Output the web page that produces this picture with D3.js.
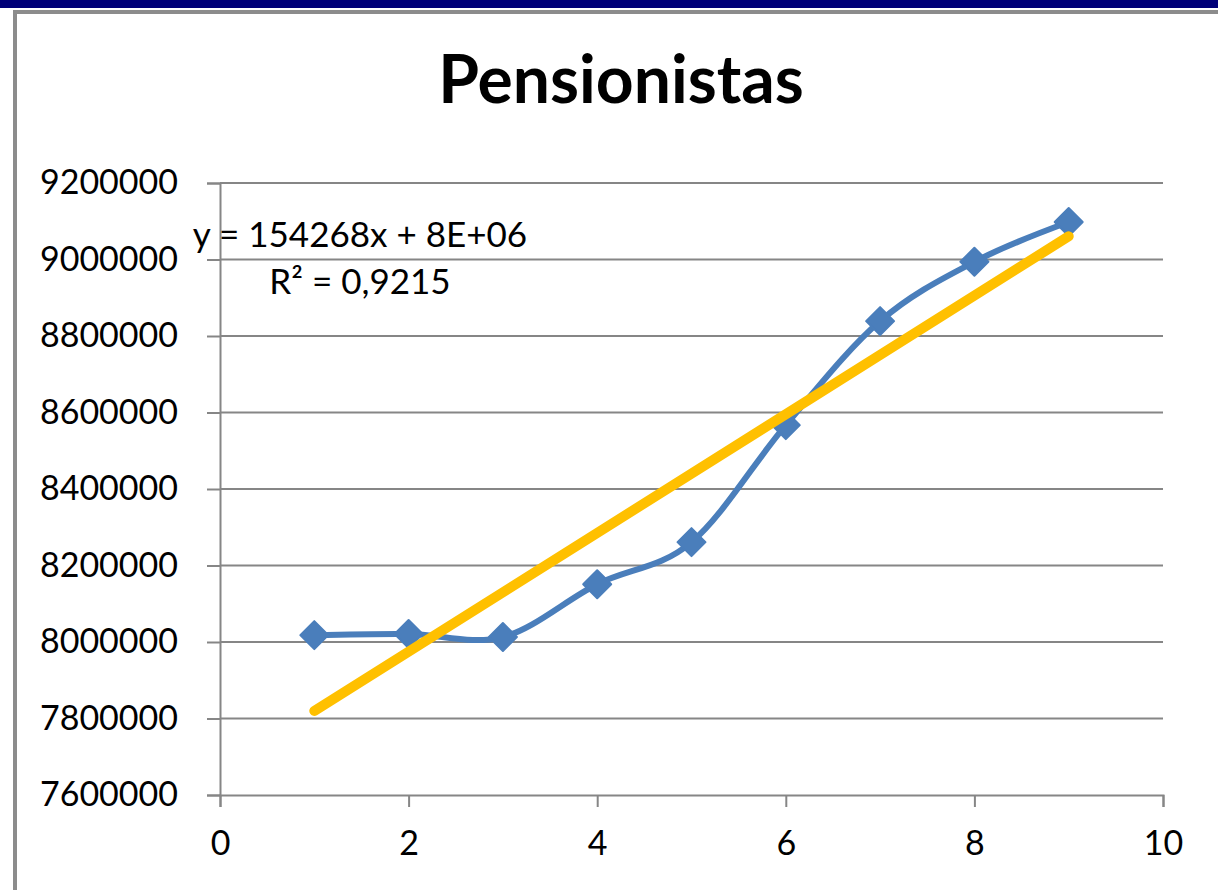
<!DOCTYPE html>
<html>
<head>
<meta charset="utf-8">
<script src="https://cdn.jsdelivr.net/npm/d3@7"></script>
<style>
  body { margin: 0; background: #fff; }
  svg { display: block; font-family: Lato, "Open Sans", sans-serif; }
  .grid line { stroke: #868686; stroke-width: 2; }
  .axis path, .axis line { stroke: #868686; stroke-width: 2; }
  .axis text { fill: #000; font-size: 34px; font-family: Lato, "Open Sans", sans-serif; }
</style>
</head>
<body>
<svg id="chart" width="1218" height="890"></svg>
<script>
// data
var periods = [1, 2, 3, 4, 5, 6, 7, 8, 9];
var pensionistas = [8018000, 8021000, 8013000, 8151000, 8261000, 8567000, 8839000, 8994000, 9098000];
var xTicks = [0, 2, 4, 6, 8, 10];
var yTicks = [7600000, 7800000, 8000000, 8200000, 8400000, 8600000, 8800000, 9000000, 9200000];
var title = "Pensionistas";
var eqLabel = "y = 154268x + 8E+06";
var r2Label = "R² = 0,9215";

var svg = d3.select("#chart");

// frame: navy band and grey border
svg.append("rect").attr("x", 0).attr("y", 0).attr("width", 1218).attr("height", 8).attr("fill", "#000078");
svg.append("rect").attr("x", 15).attr("y", 12).attr("width", 1300).attr("height", 1000)
    .attr("fill", "#fff").attr("stroke", "#8c8c8c").attr("stroke-width", 4);

var plotL = 220, plotR = 1163, plotT = 183, plotB = 795;

var x = d3.scaleLinear().domain([0, 10]).range([plotL, plotR]);
var y = d3.scaleLinear().domain([7600000, 9200000]).range([plotB, plotT]);

// title
svg.append("text")
    .attr("x", 621).attr("y", 103)
    .attr("text-anchor", "middle")
    .style("font-size", "66px").style("font-weight", "bold")
    .text(title);

// horizontal gridlines
svg.append("g").attr("class", "grid")
  .selectAll("line").data(yTicks.slice(1)).enter().append("line")
    .attr("x1", plotL).attr("x2", plotR)
    .attr("y1", function(d) { return y(d); })
    .attr("y2", function(d) { return y(d); });

// axes
svg.append("g").attr("class", "axis")
    .attr("transform", "translate(" + plotL + ",0)")
    .call(d3.axisLeft(y).tickValues(yTicks).tickSize(13).tickPadding(29).tickFormat(d3.format("d")));

svg.append("g").attr("class", "axis")
    .attr("transform", "translate(0," + plotB + ")")
    .call(d3.axisBottom(x).tickValues(xTicks).tickSize(12).tickPadding(24).tickSizeOuter(12));

// least-squares trend line
var mx = d3.mean(periods), my = d3.mean(pensionistas);
var sxy = d3.sum(periods, function(p, i) { return (p - mx) * (pensionistas[i] - my); });
var sxx = d3.sum(periods, function(p) { return (p - mx) * (p - mx); });
var slope = sxy / sxx, intercept = my - slope * mx;

var pts = periods.map(function(p, i) { return [p, pensionistas[i]]; });

// smoothed series
svg.append("path")
    .datum(pts)
    .attr("fill", "none")
    .attr("stroke", "#4a7ebb")
    .attr("stroke-width", 6)
    .attr("d", d3.line()
      .x(function(d) { return x(d[0]); })
      .y(function(d) { return y(d[1]); })
      .curve(d3.curveCardinal.tension(0)));

svg.append("g").selectAll("path").data(pts).enter().append("path")
    .attr("transform", function(d) { return "translate(" + x(d[0]) + "," + y(d[1]) + ")"; })
    .attr("d", "M0,-14L14,0L0,14L-14,0Z")
    .attr("fill", "#4a7ebb")
    .attr("stroke", "#4a7ebb")
    .attr("stroke-width", 2)
    .attr("stroke-linejoin", "round");

var x0 = d3.min(periods), x1 = d3.max(periods);
svg.append("line")
    .attr("x1", x(x0)).attr("y1", y(intercept + slope * x0))
    .attr("x2", x(x1)).attr("y2", y(intercept + slope * x1))
    .attr("stroke", "#ffc000")
    .attr("stroke-width", 10)
    .attr("stroke-linecap", "round");

// equation labels
svg.append("text")
    .attr("x", 360).attr("y", 247)
    .attr("text-anchor", "middle")
    .style("font-size", "35px")
    .text(eqLabel);
svg.append("text")
    .attr("x", 360).attr("y", 294)
    .attr("text-anchor", "middle")
    .style("font-size", "35px")
    .text(r2Label);
</script>
</body>
</html>
